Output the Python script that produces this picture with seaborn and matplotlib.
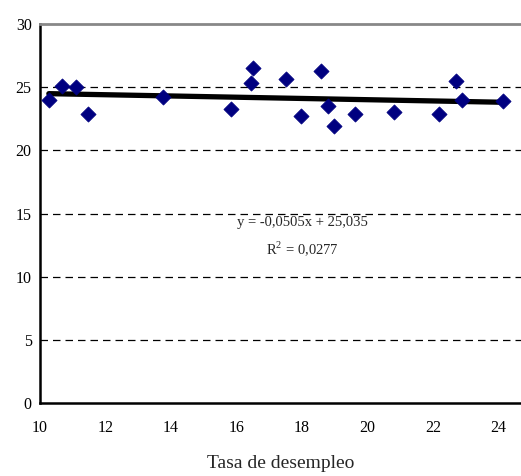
import matplotlib
matplotlib.use("Agg")
import matplotlib.pyplot as plt
import seaborn as sns
import pandas as pd

x_vals = [10.27, 10.68, 11.09, 11.48, 13.77, 15.84, 16.44, 16.50, 17.50, 17.98,
          18.59, 18.80, 18.97, 19.62, 20.80, 22.19, 22.70, 22.90, 24.15]
y_vals = [24.0, 25.1, 25.0, 22.9, 24.25, 23.3, 25.3, 26.55, 25.65, 22.7,
          26.3, 23.5, 21.95, 22.85, 23.05, 22.9, 25.45, 23.95, 23.9]
x_ticks = [10, 12, 14, 16, 18, 20, 22, 24]
y_ticks = [0, 5, 10, 15, 20, 25, 30]
x_label = "Tasa de desempleo"
eq_text = "y = -0,0505x + 25,035"
r2_text = "R$^2$ = 0,0277"

df = pd.DataFrame({"x": x_vals, "y": y_vals})

sns.set_style("white")
plt.rcParams["font.family"] = ["Liberation Serif", "DejaVu Serif"]
plt.rcParams["mathtext.fontset"] = "custom"
plt.rcParams["mathtext.rm"] = "Liberation Serif"

fig = plt.figure(figsize=(5.21, 4.76), dpi=100)
ax = fig.add_axes([40/521, 1-403/476, 1-40/521, (403-24)/476])

for yv in [5, 10, 15, 20, 25]:
    ax.axhline(yv, color="black", lw=0.9, dashes=(6, 4), zorder=0)

sns.regplot(data=df, x="x", y="y", ax=ax, scatter=False, ci=None,
            line_kws={"color": "black", "lw": 3.8, "zorder": 2})
sns.scatterplot(data=df, x="x", y="y", ax=ax, marker="D", s=60,
                color="#000080", edgecolor="#000080", linewidth=0.5, zorder=3)

ax.set_xlim(10, 24.69)
ax.set_ylim(0, 30)
ax.set_xticks(x_ticks)
ax.set_yticks(y_ticks)
ax.tick_params(axis="both", labelsize=11.5, direction="out", length=4, width=1,
               color="black", labelcolor="black")
ax.tick_params(axis="x", pad=8)
ax.tick_params(axis="y", pad=2)
ax.set_xlabel(x_label, fontsize=14, labelpad=14)
ax.set_ylabel("")

for s in ["left", "bottom"]:
    ax.spines[s].set_color("black")
    ax.spines[s].set_linewidth(1.8)
ax.spines["top"].set_color("#888888")
ax.spines["top"].set_linewidth(2)
ax.spines["right"].set_visible(False)

ax.text(18.0, 14.3, eq_text, fontsize=10.5, ha="center", va="center")
ax.text(18.0, 12.2, r2_text, fontsize=10.5, ha="center", va="center")

fig.savefig("out.png", dpi=100)
